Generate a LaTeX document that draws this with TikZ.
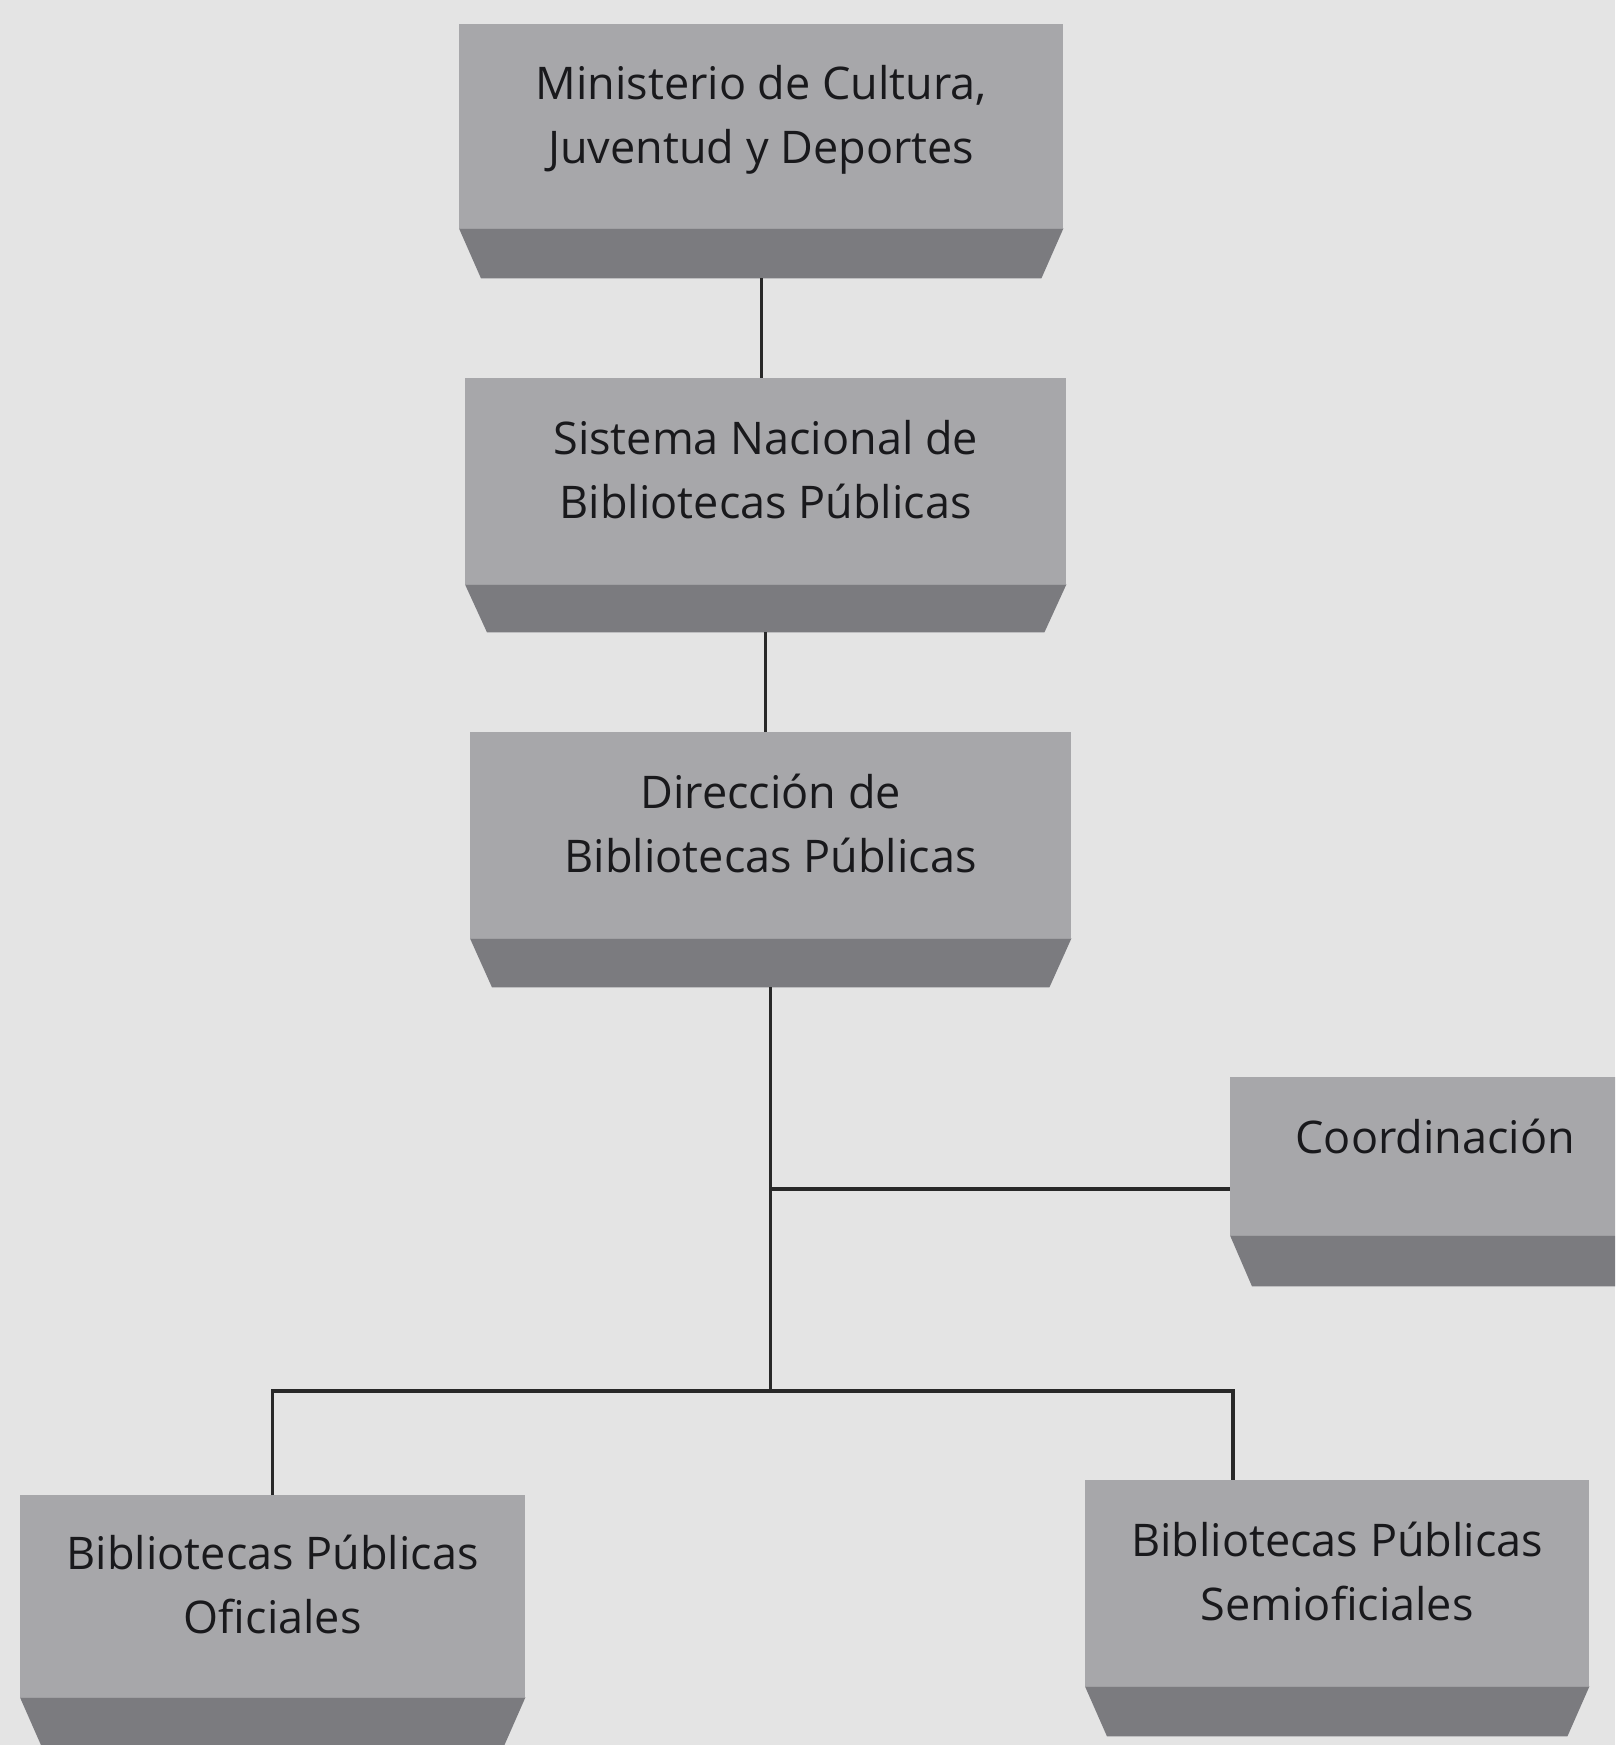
\documentclass[tikz,border=0pt]{standalone}
\usepackage{fontspec}
\setmainfont{Open Sans}
\definecolor{bgc}{RGB}{228,228,228}
\definecolor{facec}{RGB}{167,167,170}
\definecolor{bevelc}{RGB}{123,123,127}
\definecolor{textc}{RGB}{25,25,28}
\definecolor{linec}{RGB}{40,40,40}
\tikzset{
  boxface/.style={rectangle, fill=facec, draw=none, inner sep=0pt, anchor=north west,
    align=center, text=textc, font=\fontsize{45}{64}\selectfont},
  conn/.style={draw=linec, line width=3.2pt},
}
\newcommand\bevelof[2]{\fill[bevelc] (#1.south west) -- (#1.south east)
  -- ([xshift=-22pt,yshift=-#2]#1.south east) -- ([xshift=22pt,yshift=-#2]#1.south west) -- cycle;}
\newcommand\lbl[2][1pt]{\raisebox{#1}[0pt][0pt]{\begin{tabular}{@{}c@{}}#2\end{tabular}}}
\begin{document}
\begin{tikzpicture}[x=1pt,y=-1pt]
\useasboundingbox (0,0) rectangle (1615,1745);
\clip (0,0) rectangle (1615,1745);
\fill[bgc] (0,0) rectangle (1615,1745);
% boxes
\node[boxface, minimum width=604pt, minimum height=204pt] (m) at (459,24) {\lbl{Ministerio de Cultura,\\Juventud y Deportes}};
\bevelof{m}{50pt}
\node[boxface, minimum width=601pt, minimum height=206pt] (s) at (465,378) {\lbl{Sistema Nacional de\\Bibliotecas Públicas}};
\bevelof{s}{48pt}
\node[boxface, minimum width=601pt, minimum height=206pt] (d) at (470,732) {\lbl{Dirección de\\Bibliotecas Públicas}};
\bevelof{d}{49pt}
\node[boxface, minimum width=410pt, minimum height=158pt] (c) at (1230,1077) {\lbl[9pt]{Coordinación}};
\bevelof{c}{51pt}
\node[boxface, minimum width=505pt, minimum height=202pt] (o) at (20,1495) {\lbl{Bibliotecas Públicas\\Oficiales}};
\bevelof{o}{50pt}
\node[boxface, minimum width=504pt, minimum height=206pt] (sm) at (1085,1480) {\lbl{Bibliotecas Públicas\\Semioficiales}};
\bevelof{sm}{50pt}
% junction coordinates
\coordinate (busy) at (0,1391);
\coordinate (cj) at (1230,1189);
\coordinate (busR) at (1233,1391);
% connectors
\draw[conn] ([yshift=-50pt]m.south) -- (m.south |- s.north);
\draw[conn] ([yshift=-48pt]s.south) -- (s.south |- d.north);
\draw[conn] ([yshift=-49pt]d.south) -- (d.south |- busy);
\draw[conn] (d.south |- cj) -- (cj);
\draw[conn] (o.north) -- (o.north |- busy) -- (busR) -- (busR |- sm.north);
\end{tikzpicture}
\end{document}
